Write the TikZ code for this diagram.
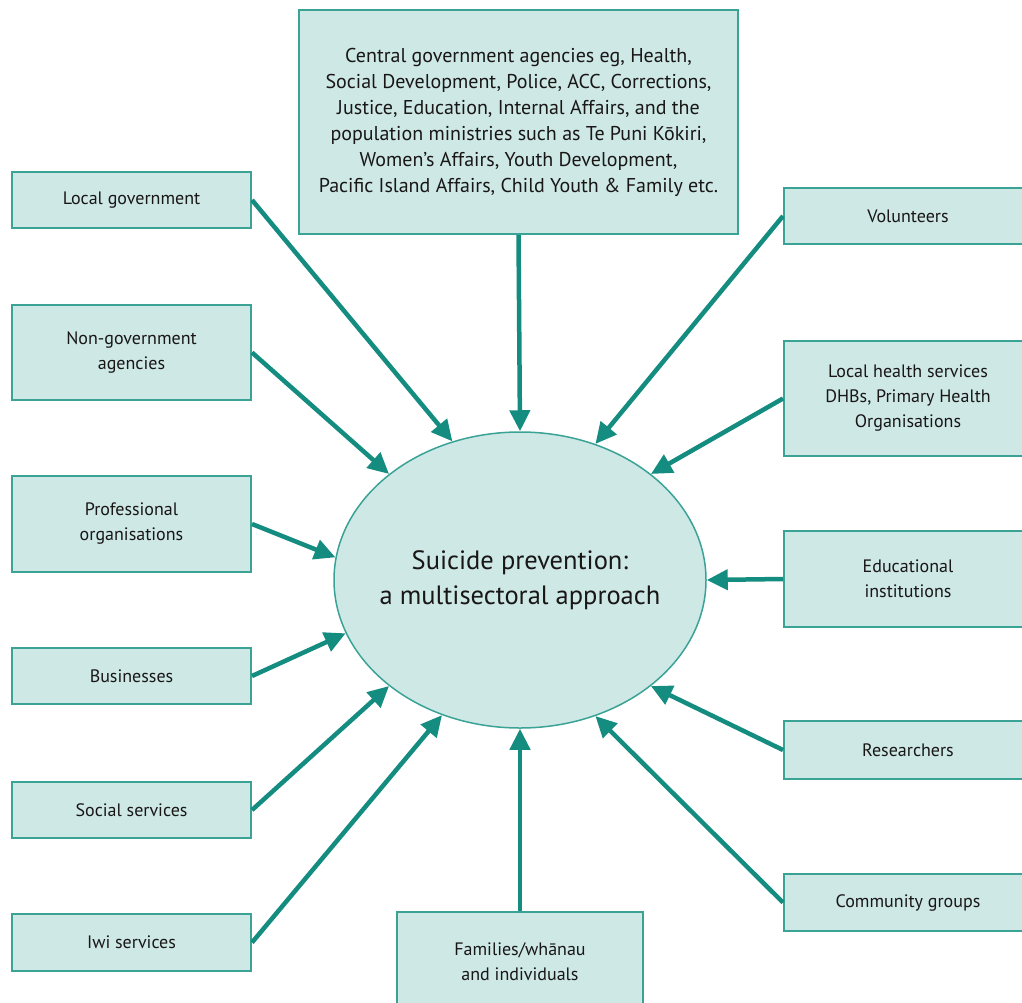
\documentclass[tikz,border=0pt]{standalone}
\usepackage{fontspec}
\setmainfont{PT Sans}
\usetikzlibrary{shapes.geometric,arrows.meta}
\definecolor{boxfill}{RGB}{205,232,229}
\definecolor{boxline}{RGB}{58,163,150}
\definecolor{arrowcol}{RGB}{20,140,128}
\definecolor{txt}{RGB}{25,22,22}
\tikzset{
  box/.style={draw=boxline, line width=2pt, fill=boxfill, rectangle, inner sep=0pt,
    align=center, text=txt, font=\fontsize{18}{25}\selectfont},
  hub/.style={draw=boxline, line width=1.5pt, fill=boxfill, ellipse,
    inner xsep=-50pt, inner ysep=-20pt,
    minimum width=372pt, minimum height=296pt, align=center, text=txt,
    font=\fontsize{26.5}{35}\selectfont},
  link/.style={draw=arrowcol, line width=4.5pt, -{Triangle[length=21pt,width=20pt]}},
}
\begin{document}
\begin{tikzpicture}[x=1pt,y=-1pt]
\useasboundingbox (0,0) rectangle (1022,1002);
\clip (0,0) rectangle (1022,1002);
\node[hub] (sp) at (520,580) {Suicide prevention:\\a multisectoral approach};
\node[box, minimum width=439pt, minimum height=224pt, font=\fontsize{20}{26}\selectfont] (cg) at (518.5,122)
 {Central government agencies eg, Health,\\Social Development, Police, ACC, Corrections,\\Justice, Education, Internal Affairs, and the\\population ministries such as Te Puni Kōkiri,\\Women’s Affairs, Youth Development,\\Pacific Island Affairs, Child Youth \& Family etc.};
\node[box, minimum width=239pt, minimum height=56pt] (lg) at (131.5,200) {Local government};
\node[box, minimum width=239pt, minimum height=95pt] (ng) at (131.5,352.5) {Non-government\\agencies};
\node[box, minimum width=239pt, minimum height=96pt] (po) at (131.5,524) {Professional\\organisations};
\node[box, minimum width=239pt, minimum height=56pt] (bu) at (131.5,676) {Businesses};
\node[box, minimum width=239pt, minimum height=56pt] (ss) at (131.5,810) {Social services};
\node[box, minimum width=239pt, minimum height=57pt] (iw) at (131.5,942.5) {Iwi services};
\node[box, minimum width=246pt, minimum height=100pt] (fa) at (520,962) {Families/whānau\\and individuals};
\node[box, minimum width=248pt, minimum height=56pt] (vo) at (908,216) {Volunteers};
\node[box, minimum width=248pt, minimum height=115pt] (lh) at (908,398.5) {Local health services\\DHBs, Primary Health\\Organisations};
\node[box, minimum width=248pt, minimum height=96pt] (ed) at (908,579) {Educational\\institutions};
\node[box, minimum width=248pt, minimum height=58pt] (re) at (908,750) {Researchers};
\node[box, minimum width=248pt, minimum height=57pt] (cm) at (908,902.5) {Community groups};

\draw[link] (cg.south) -- (sp.90);
\draw[link] (lg.east) -- (sp.116);
\draw[link] (vo.west) -- (sp.61);
\draw[link] (ng.east) -- (sp.141);
\draw[link] (lh.west) -- (sp.39);
\draw[link] (po.east) -- (sp.173);
\draw[link] (ed.west) -- (sp.0);
\draw[link] (bu.east) -- (sp.197);
\draw[link] (re.west) -- (sp.-39);
\draw[link] (ss.east) -- (sp.219);
\draw[link] (cm.west) -- (sp.-61.5);
\draw[link] (iw.east) -- (sp.240);
\draw[link] (fa.north) -- (sp.270);
\end{tikzpicture}
\end{document}
